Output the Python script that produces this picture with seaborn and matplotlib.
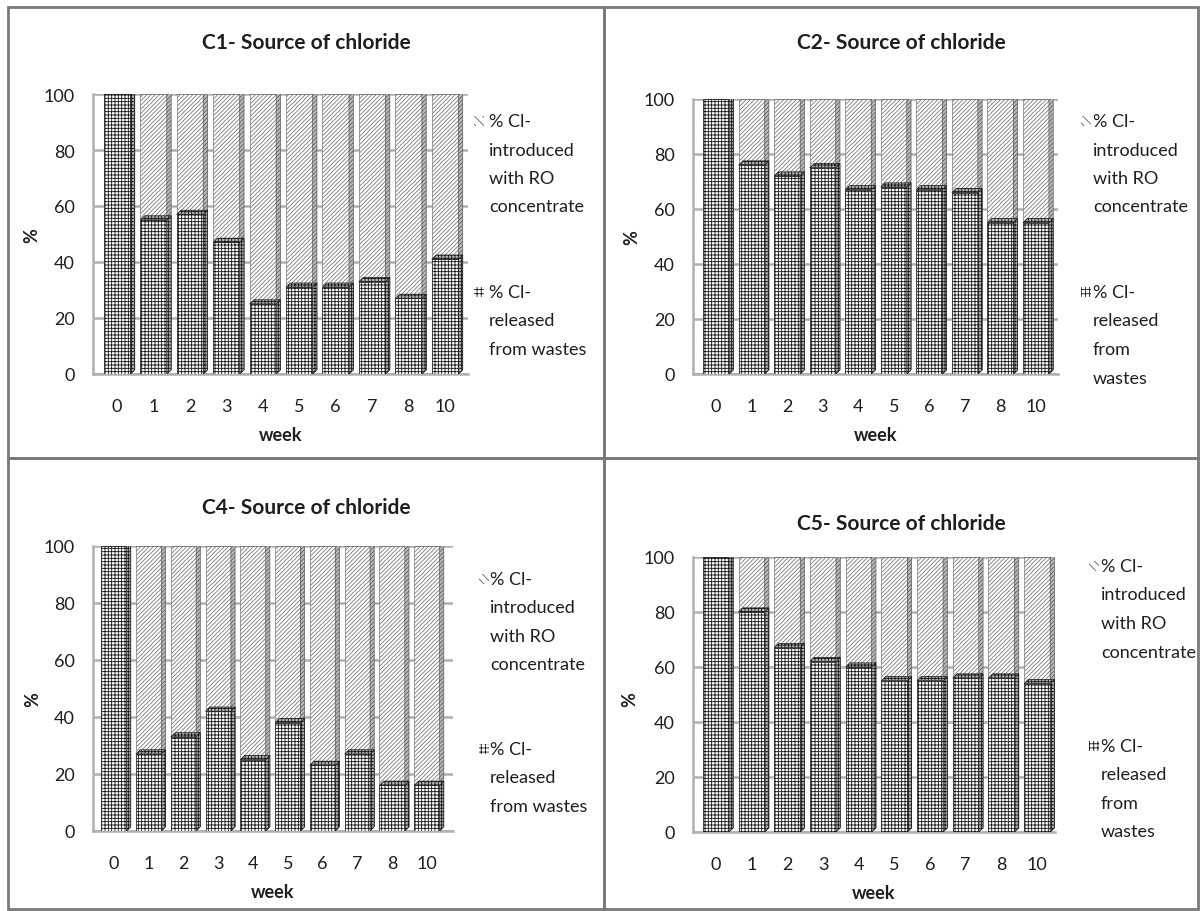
import numpy as np
import pandas as pd
import matplotlib
matplotlib.use("Agg")
import matplotlib.pyplot as plt
import seaborn as sns
from matplotlib.patches import Rectangle, Polygon

# ---- data -------------------------------------------------------------
weeks = ["0", "1", "2", "3", "4", "5", "6", "7", "8", "10"]

c1_released = [100, 55, 57, 47, 25, 31, 31, 33, 27, 41]
c2_released = [100, 76, 72, 75, 67, 68, 67, 66, 55, 55]
c4_released = [100, 27, 33, 42, 25, 38, 23, 27, 16, 16]
c5_released = [100, 80, 67, 62, 60, 55, 55, 56, 56, 54]

titles = ["C1- Source of chloride", "C2- Source of chloride",
          "C4- Source of chloride", "C5- Source of chloride"]

intro_lines = ["% Cl-", "introduced", "with RO", "concentrate"]
released_lines_wide = ["% Cl-", "released", "from wastes"]
released_lines_narrow = ["% Cl-", "released", "from", "wastes"]

# ---- style ------------------------------------------------------------
sns.set_theme(style="white")
plt.rcParams["font.family"] = ["Lato", "DejaVu Sans"]
plt.rcParams["hatch.linewidth"] = 0.6

INTRO_EDGE = "#7a7a7a"
REL_EDGE = "#151515"
GRID = "#b0b0b0"
TEXT = "#1e1e1e"
INTRO_HATCH = "////////"
REL_HATCH = "+++++"
LINE_STEP = 28.5  # px between legend text lines

fig = plt.figure(figsize=(12.04, 9.12), dpi=100)
W, H = 1204.0, 912.0


def fx(px):
    return px / W


def fy(py):
    return 1 - py / H


def add_depth(ax, patch, hatch, edge, face, d=0.12, dz=1.5):
    """Side and top faces that give each bar a little depth."""
    x0 = patch.get_x()
    x1 = x0 + patch.get_width()
    y0 = patch.get_y()
    y1 = y0 + patch.get_height()
    side = Polygon([(x1, y0), (x1 + d, y0 + dz), (x1 + d, y1 + dz), (x1, y1)],
                   closed=True, facecolor=face, edgecolor=edge, hatch=hatch,
                   linewidth=0.5, zorder=patch.get_zorder())
    top = Polygon([(x0, y1), (x0 + d, y1 + dz), (x1 + d, y1 + dz), (x1, y1)],
                  closed=True, facecolor=face, edgecolor=edge, hatch=hatch,
                  linewidth=0.5, zorder=patch.get_zorder())
    ax.add_patch(side)
    ax.add_patch(top)


def legend_entry(x_marker, x_text, y_first, lines, hatch, edge):
    fig.add_artist(Rectangle((fx(x_marker), fy(y_first + 5)), fx(10), 10 / H,
                             transform=fig.transFigure, facecolor="white",
                             edgecolor=edge, hatch=hatch, linewidth=0))
    for k, line in enumerate(lines):
        fig.text(fx(x_text), fy(y_first + k * LINE_STEP), line, ha="left",
                 va="center", fontsize=13, color=TEXT)


def draw_panel(px_box, xlim, released, title, title_xy, ylabel_xy,
               rel_lines, leg):
    left, right, y100, y0 = px_box
    ax = fig.add_axes([fx(left), fy(y0), fx(right) - fx(left), fy(y100) - fy(y0)])
    df = pd.DataFrame({"week": weeks, "released": released})
    df["introduced"] = 100 - df["released"]
    df["total"] = df["released"] + df["introduced"]

    # full-height bars show the "introduced" share above the released share
    sns.barplot(data=df, x="week", y="total", order=weeks, color="white",
                edgecolor=INTRO_EDGE, linewidth=0.5, width=0.73, hatch=INTRO_HATCH,
                saturation=1, ax=ax, zorder=3)
    n_intro = len(ax.patches)
    sns.barplot(data=df, x="week", y="released", order=weeks, color="white",
                edgecolor=REL_EDGE, linewidth=0.5, width=0.73, hatch=REL_HATCH,
                saturation=1, ax=ax, zorder=4)
    for i, p in enumerate(list(ax.patches)):
        if i < n_intro:
            add_depth(ax, p, INTRO_HATCH, "#5e5e5e", "#bcbcbc")
        else:
            add_depth(ax, p, REL_HATCH, REL_EDGE, "#b0b0b0")

    ax.set_ylim(0, 100)
    ax.set_xlim(*xlim)
    ax.set_yticks([0, 20, 40, 60, 80, 100])
    ax.yaxis.grid(True, color=GRID, linewidth=1.8)
    ax.set_axisbelow(True)
    for s in ["top", "right"]:
        ax.spines[s].set_visible(False)
    for s in ["left", "bottom"]:
        ax.spines[s].set_color(GRID)
        ax.spines[s].set_linewidth(1.8)
    ax.tick_params(axis="y", length=0, labelsize=13, colors=TEXT, pad=13)
    ax.tick_params(axis="x", length=0, labelsize=13, colors=TEXT, pad=17)
    ax.set_ylabel("")
    ax.set_xlabel("week", fontsize=13, fontweight="bold", color=TEXT, labelpad=9)

    fig.text(fx(title_xy[0]), fy(title_xy[1]), title, ha="center", va="center",
             fontsize=15, fontweight="bold", color=TEXT)
    fig.text(fx(ylabel_xy[0]), fy(ylabel_xy[1]), "%", ha="center", va="center",
             rotation=90, fontsize=13, fontweight="bold", color=TEXT)

    xm, xt, y_a, y_b = leg
    legend_entry(xm, xt, y_a, intro_lines, "\\\\\\\\", "#606060")
    legend_entry(xm, xt, y_b, rel_lines, "++++", REL_EDGE)
    return ax


# panel frames
for (x0, y0, x1, y1) in [(8, 8, 604, 459), (604, 8, 1198, 459),
                         (8, 459, 604, 910), (604, 459, 1198, 910)]:
    fig.add_artist(Rectangle((fx(x0), fy(y1)), fx(x1) - fx(x0), fy(y0) - fy(y1),
                             transform=fig.transFigure, fill=False,
                             edgecolor="#7a7a7a", linewidth=2))

draw_panel((93, 468, 95, 375), (-0.66, 9.63), c1_released, titles[0],
           (306, 43), (32, 236), released_lines_wide, (474, 489, 122, 293))
draw_panel((693, 1058, 100, 375), (-0.65, 9.62), c2_released, titles[1],
           (901, 43), (632, 238), released_lines_narrow, (1081, 1093, 122, 293))
draw_panel((93, 453, 547, 832), (-0.6, 9.75), c4_released, titles[2],
           (306, 508), (33, 700), released_lines_wide, (479, 490, 580, 750))
draw_panel((693, 1055, 558, 833), (-0.64, 9.5), c5_released, titles[3],
           (901, 524), (630, 700), released_lines_narrow, (1089, 1101, 567, 747))

fig.savefig("out.png", dpi=100, facecolor="white")
